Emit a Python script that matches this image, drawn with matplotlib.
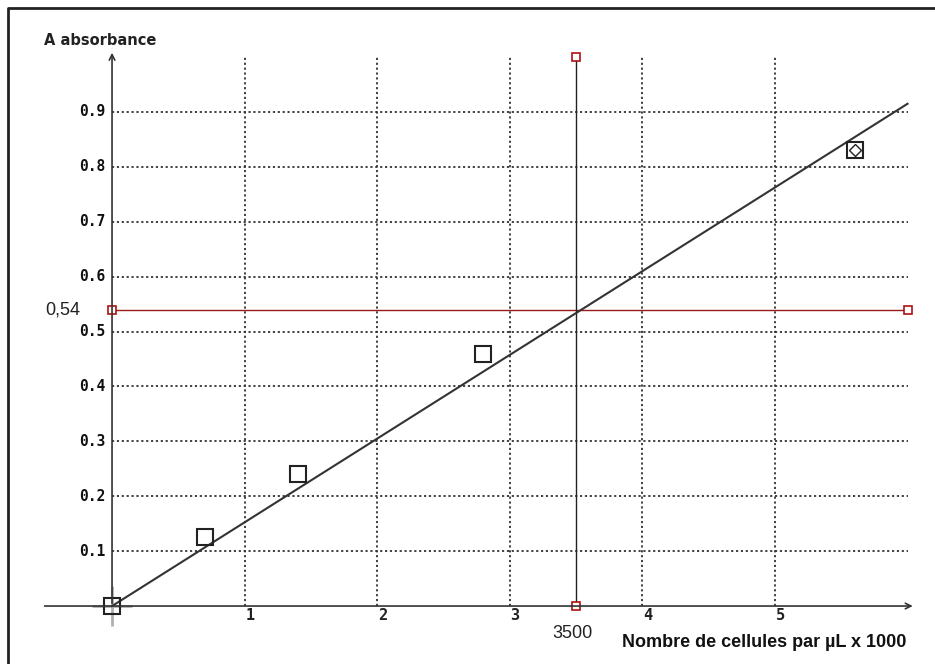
import matplotlib.pyplot as plt
from matplotlib import font_manager

# measured points (x in cells/uL x 1000, y absorbance)
cells = [0, 0.7, 1.4, 2.8, 5.6]
absorb = [0, 0.125, 0.24, 0.46, 0.83]

# fitted straight line
fit_x = [0, 6.0]
fit_y = [0, 0.915]

x_ticks = [1, 2, 3, 4, 5]
y_ticks = [0.1, 0.2, 0.3, 0.4, 0.5, 0.6, 0.7, 0.8, 0.9]
x_labels = ['1', '2', '3', '4', '5']
y_labels = ['0.1', '0.2', '0.3', '0.4', '0.5', '0.6', '0.7', '0.8', '0.9']

read_a = 0.54
read_n = 3.5

fig = plt.figure(figsize=(9.35, 6.64), dpi=100)
ax = fig.add_axes([0, 0, 1, 1])
ax.set_xlim(-0.845, 6.207)
ax.set_ylim(-0.1056, 1.104)
ax.axis('off')

# frame round the picture (only top and left edges are inside the image)
ax.plot([0.009, 0.009, 1.0], [0.0, 0.988, 0.988], transform=ax.transAxes,
        color='#222222', lw=2)

# dotted grid
ax.hlines(y_ticks, 0, 6.0, colors='#333333', linestyles=(0, (1.2, 1.5)), lw=1.3)
ax.vlines(x_ticks, 0, 1.0, colors='#333333', linestyles=(0, (1.2, 1.5)), lw=1.3)

# axes with arrows
ax.annotate('', xy=(6.06, 0), xytext=(-0.53, 0),
            arrowprops=dict(arrowstyle='->', color='#333333', lw=1.2))
ax.annotate('', xy=(0, 1.013), xytext=(0, 0),
            arrowprops=dict(arrowstyle='->', color='#333333', lw=1.2))

for x, lab in zip(x_ticks, x_labels):
    ax.text(x + 0.04, -0.018, lab, ha='center', va='center', fontsize=11,
            fontweight='bold', family='DejaVu Sans Mono', color='#222222')
for y, lab in zip(y_ticks, y_labels):
    ax.text(-0.053, y, lab, ha='right', va='center', fontsize=10.5,
            fontweight='bold', family='DejaVu Sans Mono', color='#111111')

# reading lines
ax.plot([0, 6.0], [read_a, read_a], color='#9b1b1b', lw=1.0)
ax.plot([0, 6.0], [read_a, read_a], ls='none', marker='s', ms=6,
        mfc='white', mec='#b01010', mew=1.2)
ax.plot([read_n, read_n], [0, 1.0], color='#222222', lw=1.0)
ax.plot([read_n, read_n], [0, 1.0], ls='none', marker='s', ms=6,
        mfc='white', mec='#b01010', mew=1.2)

# fit line and points
ax.plot(0, 0, ls='none', marker='+', ms=29, mec='#b0b0b0', mew=2)
ax.plot(fit_x, fit_y, color='#333333', lw=1.5)
ax.plot(cells, absorb, ls='none', marker='s', ms=11, mfc='none',
        mec='#222222', mew=1.5)
ax.plot(cells[-1], absorb[-1], ls='none', marker='D', ms=6, mfc='none',
        mec='#222222', mew=1.0)

ax.text(-0.37, read_a, '0,54', ha='center', va='center', fontsize=13,
        family='Liberation Sans', color='#222222')
ax.text(read_n - 0.03, -0.05, '3500', ha='center', va='center', fontsize=13,
        family='Liberation Sans', color='#222222')

ax.text(-0.51, 1.03, 'A absorbance', ha='left', va='center', fontsize=10.5,
        fontweight='bold', family='DejaVu Sans', color='#222222')

names = {f.name for f in font_manager.fontManager.ttflist}
if 'Liberation Sans Narrow' in names:
    title_font, title_size = 'Liberation Sans Narrow', 15.5
else:
    title_font, title_size = 'Liberation Sans', 13
ax.text(5.99, -0.066, 'Nombre de cellules par µL x 1000', ha='right',
        va='center', fontsize=title_size, fontweight='bold',
        family=title_font, color='#111111')

fig.savefig('out.png', dpi=100)
